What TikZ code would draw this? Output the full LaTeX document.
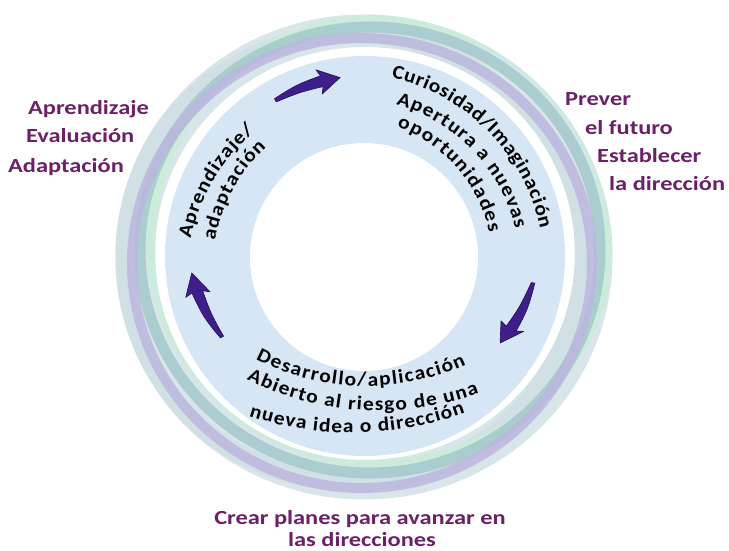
\documentclass[tikz,border=0pt]{standalone}
\usepackage{fontspec}
\setmainfont{Carlito}
\newfontfamily\labfont{Carlito}[FakeStretch=1.22]
\newfontfamily\ringfam{Carlito}[FakeStretch=1.1]
\usetikzlibrary{decorations.text,calc}
\definecolor{txtpurple}{RGB}{108,32,104}
\definecolor{discblue}{RGB}{214,230,245}
\definecolor{bandbase}{RGB}{216,230,234}
\definecolor{bandgrey}{RGB}{208,224,229}
\definecolor{bandpurple}{RGB}{188,182,223}
\definecolor{bandteal}{RGB}{160,199,201}
\definecolor{bandgreen}{RGB}{202,236,218}
\definecolor{arrowfill}{RGB}{62,30,138}
\definecolor{arrowline}{RGB}{40,15,90}
\newcommand\outfont{\labfont\bfseries\fontsize{20}{22}\selectfont}
\newcommand\ringfont{\ringfam\bfseries\fontsize{19.5}{19.5}\selectfont}
% text along an arc through two glyph-centre points
% #1,#2 start  #3,#4 end  #5 radius  #6 baseline offset  #7 +1 cw / -1 ccw  #8 text
\newcommand\arctext[8]{%
 \pgfmathsetmacro\atDX{(#3-(#1))/100}\pgfmathsetmacro\atDY{(#4-(#2))/100}%
 \pgfmathsetmacro\atL{sqrt(\atDX*\atDX+\atDY*\atDY)}%
 \pgfmathsetmacro\atH{100*sqrt((#5/100)*(#5/100)-\atL*\atL/4)}%
 \pgfmathsetmacro\atCX{((#1)+(#3))/2+(#7)*\atH*\atDY/\atL}%
 \pgfmathsetmacro\atCY{((#2)+(#4))/2-(#7)*\atH*\atDX/\atL}%
 \pgfmathsetmacro\atA{atan2((#2)-\atCY,(#1)-\atCX)}%
 \pgfmathsetmacro\atB{atan2((#4)-\atCY,(#3)-\atCX)}%
 \pgfmathsetmacro\atB{(#7>0) ? ((\atB>\atA) ? \atB-360 : \atB) : ((\atB<\atA) ? \atB+360 : \atB)}%
 \pgfmathsetmacro\atE{5/#5*57.2958}%
 \pgfmathsetmacro\atS{\atA+(#7)*\atE}%
 \pgfmathsetmacro\atF{\atB-(#7)*\atE}%
 \pgfmathsetmacro\atR{#5+(#6)}%
 \path[decorate,decoration={text along path,text align={fit to path},text={|\ringfont|#8}}]
   ({\atCX+\atR*cos(\atS)},{\atCY+\atR*sin(\atS)}) arc[start angle=\atS,end angle=\atF,radius=\atR pt];
}
% curved block arrow about the centre: tail angle, tail radius, tip angle, tip radius
\newcommand\bentarrow[4]{%
 \pgfmathsetmacro\arTA{#1}\pgfmathsetmacro\arTR{#2}%
 \pgfmathsetmacro\arPA{#3}\pgfmathsetmacro\arPR{#4}%
 \pgfmathsetmacro\arNA{\arPA+0.27*(\arTA-\arPA)}%
 \pgfmathsetmacro\arNR{\arPR+0.27*(\arTR-\arPR)}%
 \pgfmathsetmacro\arBA{\arPA+0.31*(\arTA-\arPA)}%
 \pgfmathsetmacro\arMA{\arPA+0.63*(\arTA-\arPA)}%
 \pgfmathsetmacro\arMR{\arPR+0.63*(\arTR-\arPR)}%
 \filldraw[fill=arrowfill,draw=arrowline,line width=0.6pt,line join=round]
   plot[smooth,tension=0.7] coordinates {({\arTA}:{\arTR+1.8}) ({\arMA}:{\arMR+4}) ({\arNA}:{\arNR+5.5})}
   -- ({\arBA}:{\arNR+12.5}) -- ({\arPA}:{\arPR}) -- ({\arBA}:{\arNR-12.5})
   -- plot[smooth,tension=0.7] coordinates {({\arNA}:{\arNR-5.5}) ({\arMA}:{\arMR-4}) ({\arTA}:{\arTR-1.8})} -- cycle;
}
\begin{document}
\begin{tikzpicture}[x=1pt,y=1pt,
  outtext/.style={text=txtpurple,font=\outfont,inner sep=0pt}]
\useasboundingbox (-364,-294) rectangle (365,257);
\fill[white] (-364,-294) rectangle (365,257);
% outer ring: base annulus and offset coloured bands
\fill[bandbase,even odd rule] (0,0) ellipse [x radius=248.5,y radius=242.5]
   (1,3.5) ellipse [x radius=210,y radius=206.5];
\begin{scope}[even odd rule]
\clip (0,0) ellipse [x radius=248.5,y radius=242.5]
   (1,3.5) ellipse [x radius=210,y radius=206.5];
\draw[bandgrey,line width=18pt] (-13,-1) ellipse [x radius=229,y radius=224];
\draw[bandgreen,line width=9pt,opacity=0.9] (16,16) ellipse [x radius=229,y radius=222];
\draw[bandteal,line width=11pt,opacity=0.8] (6,7) ellipse [x radius=230,y radius=223];
\draw[bandpurple,line width=10pt,opacity=0.85] (-2,-6) ellipse [x radius=230,y radius=225];
\end{scope}
% blue disc and hole
\fill[discblue] (1,1) circle [radius=200];
\fill[white] (0,0) circle [radius=114];
% arrows
\bentarrow{119.5}{180}{97.6}{181}
\bentarrow{-8.7}{171}{-32.3}{161}
\bentarrow{209.4}{163}{185.3}{173}
% ring texts
\arctext{33}{182}{179}{34}{200}{-4}{1}{Curiosidad/Imaginación}
\arctext{38}{155}{154}{34}{175}{-4}{1}{Apertura a nuevas}
\arctext{39}{132}{128}{30}{150}{-4}{1}{oportunidades}
\arctext{-176}{24}{-116}{125}{195}{-4}{1}{Aprendizaje/}
\arctext{-152}{22}{-104}{109}{170}{-4}{1}{adaptación}
\arctext{-102}{-101}{96}{-106}{240}{4}{-1}{Desarrollo/aplicación}
\arctext{-111}{-121}{109}{-134}{290}{4}{-1}{Abierto al riesgo de una}
\arctext{-109}{-157}{95}{-154}{330}{4}{-1}{nueva idea o dirección}
% outer texts
\node[outtext,anchor=base west] (l1) at (-336,142) {Aprendizaje};
\node[outtext,anchor=base west] (l2) at (-338,114) {Evaluación};
\node[outtext,anchor=base west] (l3) at (-356,84) {Adaptación};
\node[outtext,anchor=base west] (r1) at (201,151) {Prever};
\node[outtext,anchor=base west] (r2) at (221,122) {el futuro};
\node[outtext,anchor=base west] (r3) at (233,94) {Establecer};
\node[outtext,anchor=base west] (r4) at (245,66) {la dirección};
\node[outtext,anchor=base] (b1) at (-4,-267) {Crear planes para avanzar en};
\node[outtext,anchor=base] (b2) at (-2,-290) {las direcciones};
\end{tikzpicture}
\end{document}
